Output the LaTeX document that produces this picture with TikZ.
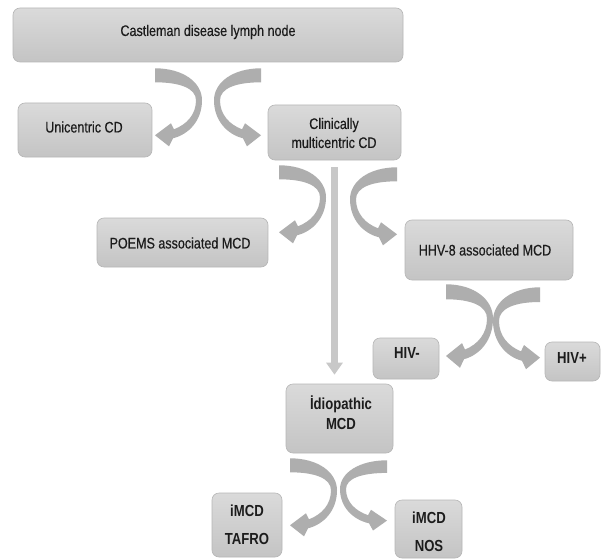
\documentclass[tikz,border=0pt]{standalone}
\usepackage{fontspec}
\setmainfont{Liberation Sans}[FakeStretch=0.82]
\newfontfamily\cdreg{Liberation Sans}[FakeStretch=0.82,FakeBold=0.4]
\usetikzlibrary{arrows.meta,calc}
\definecolor{boxtop}{RGB}{218,218,218}
\definecolor{boxbot}{RGB}{196,196,196}
\definecolor{boxline}{RGB}{182,182,182}
\definecolor{arrowgray}{RGB}{174,174,174}
\definecolor{linegray}{RGB}{200,200,200}
\definecolor{txtcol}{RGB}{28,28,28}
\tikzset{
  cdbox/.style={draw=boxline, line width=0.6pt, rounded corners=7pt,
    top color=boxtop, bottom color=boxbot, inner sep=0pt},
  cdtext/.style={text=txtcol, align=center, inner sep=0pt,
    font=\cdreg\fontsize{15.3}{19}\selectfont},
  cdbold/.style={text=txtcol, align=center, inner sep=0pt,
    font=\fontsize{16}{20}\selectfont\bfseries},
  vline/.style={draw=linegray, line width=7pt,
    -{Triangle[width=16pt,length=12pt]}},
  bendleft/.pic={
    \fill[arrowgray] (0,0) .. controls (28,0) and (47,14) .. (47,32)
      .. controls (47,52) and (34,66) .. (18,70) -- (14,78) -- (0,67)
      -- (16,55) -- (19,61) .. controls (32,56) and (41,46) .. (41,32)
      .. controls (41,20) and (25,14) .. (0,14) -- cycle;
  }
}
\begin{document}
\begin{tikzpicture}[x=1pt,y=-1pt]
\useasboundingbox (0,0) rectangle (602,559);
\fill[white] (0,0) rectangle (602,559);

% boxes
\node[cdbox, minimum width=390pt, minimum height=54pt] (top) at (208,35) {};
\node[cdbox, minimum width=134pt, minimum height=54pt] (uni) at (85,130) {};
\node[cdbox, minimum width=133pt, minimum height=55pt] (clin) at (334.5,132.5) {};
\node[cdbox, minimum width=171pt, minimum height=49pt] (poems) at (182.5,242.5) {};
\node[cdbox, minimum width=168pt, minimum height=60pt] (hhv) at (489,250) {};
\node[cdbox, minimum width=66pt, minimum height=41pt] (hivm) at (406,358.5) {};
\node[cdbox, minimum width=55pt, minimum height=39pt] (hivp) at (572.5,361.5) {};
\node[cdbox, minimum width=107pt, minimum height=69pt] (idio) at (339.5,418.5) {};
\node[cdbox, minimum width=70pt, minimum height=64pt] (tafro) at (247,525) {};
\node[cdbox, minimum width=67pt, minimum height=58pt] (nos) at (428.5,529) {};

% texts
\node[cdtext] (topT) at (208,32) {Castleman disease lymph node};
\node[cdtext] (uniT) at (84,127) {Unicentric CD};
\node[cdtext] (clinT) at (334,133) {Clinically\\multicentric CD};
\node[cdtext] (poemsT) at (180,243) {POEMS associated MCD};
\node[cdtext] (hhvT) at (485,250) {HHV-8 associated MCD};
\node[cdbold] (hivmT) at (407,353) {HIV-};
\node[cdbold] (hivpT) at (572,358) {HIV+};
\node[cdbold] (idioT) at (341,413) {İdiopathic\\MCD};
\node[cdbold] (tafroT) at (247,525) {iMCD\\[8pt]TAFRO};
\node[cdbold] (nosT) at (429,532) {iMCD\\[8pt]NOS};

% curved arrows
\begin{scope}[shift={($(top.south)+(-53,6)$)}] \pic[transform shape] {bendleft}; \end{scope}
\begin{scope}[shift={($(top.south)+(53,6)$)}, xscale=-1] \pic[transform shape] {bendleft}; \end{scope}

\begin{scope}[shift={($(clin.south)+(-55.5,5)$)}] \pic[transform shape] {bendleft}; \end{scope}
\begin{scope}[shift={($(clin.south)+(62.5,7)$)}, xscale=-1] \pic[transform shape] {bendleft}; \end{scope}

\begin{scope}[shift={($(hhv.south)+(-43,4)$)}, yscale=1.07] \pic[transform shape] {bendleft}; \end{scope}
\begin{scope}[shift={($(hhv.south)+(51,7)$)}, xscale=-1, yscale=1.05] \pic[transform shape] {bendleft}; \end{scope}

\begin{scope}[shift={($(idio.south)+(-49.5,5)$)}] \pic[transform shape] {bendleft}; \end{scope}
\begin{scope}[shift={($(idio.south)+(47.5,7)$)}, xscale=-1, yscale=0.9] \pic[transform shape] {bendleft}; \end{scope}

% vertical connector
\draw[vline, shorten <=7pt, shorten >=9pt] (clin.south) -- (clin.south |- idio.north);
\end{tikzpicture}
\end{document}
